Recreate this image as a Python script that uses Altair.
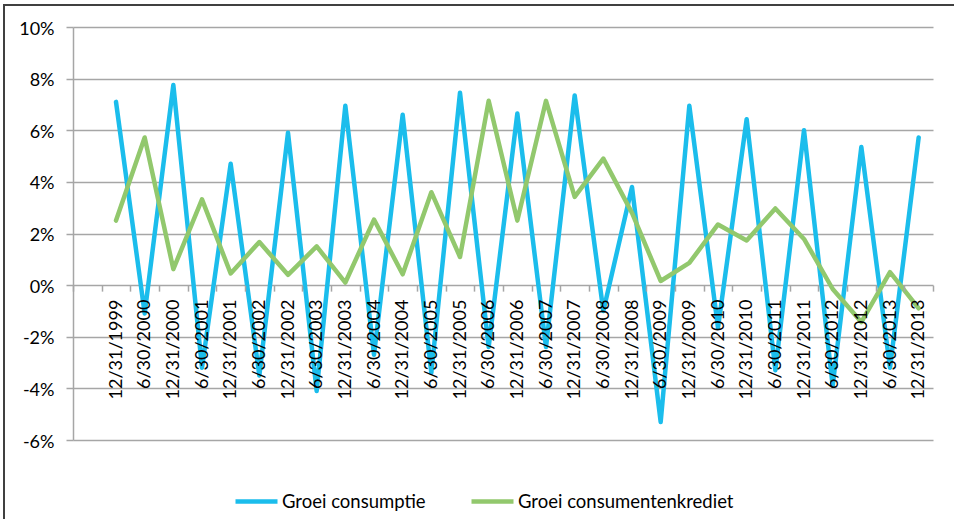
import altair as alt
import pandas as pd

# Half-year periods on the category axis (the first slot is an unlabeled, empty period)
periods = [
    " ",
    "12/31/1999", "6/30/2000", "12/31/2000", "6/30/2001", "12/31/2001",
    "6/30/2002", "12/31/2002", "6/30/2003", "12/31/2003", "6/30/2004",
    "12/31/2004", "6/30/2005", "12/31/2005", "6/30/2006", "12/31/2006",
    "6/30/2007", "12/31/2007", "6/30/2008", "12/31/2008", "6/30/2009",
    "12/31/2009", "6/30/2010", "12/31/2010", "6/30/2011", "12/31/2011",
    "6/30/2012", "12/31/2012", "6/30/2013", "12/31/2013",
]

# Growth in percent, one value per labelled period
groei_consumptie = [
    7.1, -1.1, 7.75, -3.2, 4.7,
    -3.5, 5.9, -4.1, 6.95, -2.7,
    6.6, -3.4, 7.45, -2.4, 6.65,
    -2.4, 7.35, -1.0, 3.8, -5.3,
    6.95, -1.65, 6.43, -3.3, 6.0,
    -3.9, 5.35, -3.2, 5.72,
]
groei_consumentenkrediet = [
    2.5, 5.72, 0.62, 3.32, 0.45,
    1.67, 0.4, 1.5, 0.1, 2.54,
    0.42, 3.6, 1.09, 7.14, 2.5,
    7.14, 3.42, 4.9, 2.8, 0.16,
    0.86, 2.35, 1.73, 2.97, 1.79,
    -0.15, -1.43, 0.5, -0.9,
]

series_names = ["Groei consumptie", "Groei consumentenkrediet"]
series_colors = ["#1BBDEC", "#92C86D"]

rows = []
for name, values in zip(series_names, [groei_consumptie, groei_consumentenkrediet]):
    for period, v in zip(periods[1:], values):
        rows.append({"periode": period, "reeks": name, "groei": v})
df = pd.DataFrame(rows)

FONT = "Lato"
GRID = "#A6A6A6"

W, H = 860, 413
y_ticks = [-6, -4, -2, 0, 2, 4, 6, 8, 10]
zero_offset = -H * 6 / 16  # lift the category axis to the 0% line

lines = alt.Chart(df).mark_line(
    strokeWidth=4.5, strokeJoin="round", strokeCap="round"
).encode(
    x=alt.X(
        "periode:N",
        sort=None,
        bandPosition=0.5,
        scale=alt.Scale(type="band", domain=periods, paddingInner=0, paddingOuter=0),
        axis=alt.Axis(
            title=None,
            domain=False,
            ticks=True,
            tickBand="extent",
            tickSize=6,
            tickColor=GRID,
            tickWidth=1.5,
            labelAngle=270,
            labelPadding=8,
            labelFont=FONT,
            labelFontSize=18,
            labelColor="#000000",
            labelOverlap=False,
            labelBound=False,
            labelFlush=False,
            offset=zero_offset,
            zindex=1,
        ),
    ),
    y=alt.Y(
        "groei:Q",
        scale=alt.Scale(domain=[-6, 10], nice=False, zero=False),
        axis=alt.Axis(
            title=None,
            values=y_ticks,
            labelExpr="datum.value + '%'",
            grid=True,
            gridColor=GRID,
            gridWidth=1.5,
            domainColor=GRID,
            domainWidth=1.5,
            tickColor=GRID,
            tickWidth=1.5,
            tickSize=7,
            labelPadding=12,
            labelFont=FONT,
            labelFontSize=18,
            labelColor="#000000",
            labelOffset=2,
        ),
    ),
    color=alt.Color(
        "reeks:N",
        scale=alt.Scale(domain=series_names, range=series_colors),
        legend=alt.Legend(
            title=None,
            orient="none",
            legendX=160,
            legendY=451,
            direction="horizontal",
            symbolType="stroke",
            symbolSize=1764,
            symbolStrokeWidth=4.5,
            labelFont=FONT,
            labelFontSize=18.5,
            labelColor="#000000",
            labelLimit=400,
            labelOffset=2,
            columnPadding=36,
        ),
    ),
    order=alt.Order("reeks:N", sort="descending"),
)

# Outer frame around the chart area
frame = alt.Chart(df).mark_rect(
    filled=False, stroke="#404040", strokeWidth=1.5
).encode(
    x=alt.value(-69), x2=alt.value(900), y=alt.value(-22), y2=alt.value(520)
)

chart = alt.layer(frame, lines).properties(
    width=W,
    height=H,
    padding={"left": 73, "top": 27, "right": 21, "bottom": 79},
    autosize=alt.AutoSizeParams(type="none"),
    background="#FFFFFF",
).configure_view(stroke=None)

chart.save("out.html", embed_options={"renderer": "svg", "actions": False})
